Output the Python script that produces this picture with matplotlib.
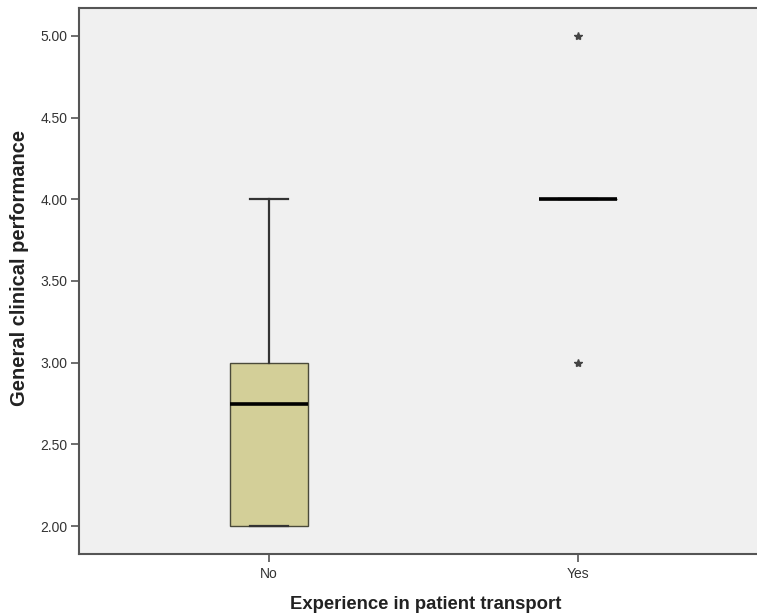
import matplotlib
matplotlib.use("Agg")
import matplotlib.pyplot as plt

# группы и статистика боксплотов
groups = ["No", "Yes"]
medians = [2.75, 4.00]
q1 = [2.00, 4.00]
q3 = [3.00, 4.00]
whisker_low = [2.00, 4.00]
whisker_high = [4.00, 4.00]
outliers = [[], [3.00, 5.00]]

yticks = [2.00, 2.50, 3.00, 3.50, 4.00, 4.50, 5.00]

plt.rcParams["font.family"] = ["Liberation Sans", "DejaVu Sans"]

fig = plt.figure(figsize=(7.57, 6.14), dpi=100)
# ось выходит за правый край картинки, как в оригинале
ax = fig.add_axes([79 / 757, 1 - 554 / 614, 693 / 757, (554 - 8) / 614])
ax.set_facecolor("#f0f0f0")

stats = []
for i, g in enumerate(groups):
    stats.append({
        "label": g,
        "med": medians[i],
        "q1": q1[i],
        "q3": q3[i],
        "whislo": whisker_low[i],
        "whishi": whisker_high[i],
        "fliers": outliers[i],
    })

ax.bxp(
    stats,
    positions=[1, 2],
    widths=0.25,
    capwidths=0.125,
    patch_artist=True,
    boxprops=dict(facecolor="#d3cf98", edgecolor="#4a4a3a", linewidth=1.0),
    medianprops=dict(color="black", linewidth=2.6, solid_capstyle="butt"),
    whiskerprops=dict(color="#333333", linewidth=1.6),
    capprops=dict(color="#333333", linewidth=1.6),
    flierprops=dict(marker="*", markersize=6, markerfacecolor="#444444",
                    markeredgecolor="#444444", linestyle="none"),
)

# No на 269 px, Yes на 578 px
ax.set_xlim(1 - 190 / 309, 2 + 194 / 309)
ax.set_ylim(1.829, 5.171)

ax.set_yticks(yticks)
ax.set_yticklabels([f"{t:.2f}" for t in yticks])
ax.set_xticks([1, 2])
ax.set_xticklabels(groups)

ax.tick_params(axis="both", colors="#555555", labelcolor="#333333", labelsize=10,
               length=6, width=1.2, direction="out")
ax.tick_params(axis="y", pad=2.5)

for side in ["left", "bottom", "top", "right"]:
    ax.spines[side].set_color("#555555")
    ax.spines[side].set_linewidth(1.5)

ax.set_ylabel("General clinical performance", fontsize=14.5, fontweight="bold",
              color="#222222")
ax.yaxis.set_label_coords(-(79 - 29) / 693, (554 - 268) / 546)
ax.set_xlabel("Experience in patient transport", fontsize=13.3, fontweight="bold",
              color="#222222", labelpad=11)

fig.savefig("out.png", dpi=100)
